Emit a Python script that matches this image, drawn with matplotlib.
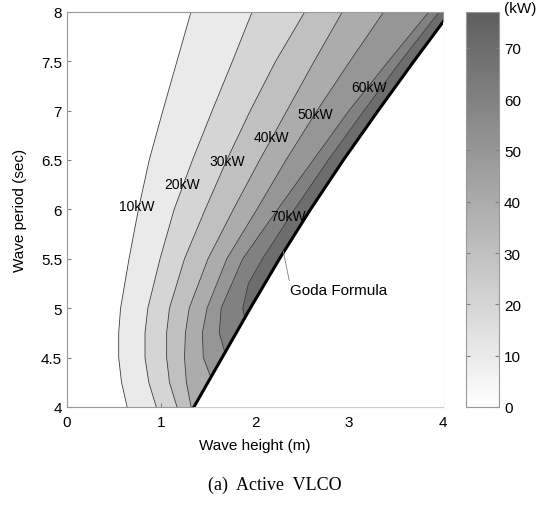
import numpy as np
import matplotlib
matplotlib.use("Agg")
import matplotlib.pyplot as plt
from matplotlib.colors import LinearSegmentedColormap, Normalize
from matplotlib.cm import ScalarMappable

plt.rcParams['font.family'] = ['Liberation Sans', 'DejaVu Sans']

# wave period grid (sec)
T_full = [4.0, 4.25, 4.5, 4.75, 5.0, 5.5, 6.0, 6.5, 7.0, 7.5, 8.0]

# Goda formula limit (wave height, m)
goda_H = [1.35, 1.50, 1.65, 1.80, 1.95, 2.26, 2.59, 2.94, 3.31, 3.69, 4.08]

# contour lines: wave height where power equals level
levels = [10, 20, 30, 40, 50, 60, 70]
T_10 = T_full
H_10 = [0.64, 0.58, 0.55, 0.55, 0.57, 0.66, 0.76, 0.875, 1.02, 1.17, 1.32]
T_20 = T_full
H_20 = [0.95, 0.87, 0.83, 0.83, 0.86, 0.99, 1.14, 1.335, 1.545, 1.76, 1.97]
T_30 = T_full
H_30 = [1.17, 1.09, 1.06, 1.06, 1.09, 1.25, 1.47, 1.70, 1.95, 2.22, 2.53]
T_40 = T_full
H_40 = [1.32, 1.27, 1.25, 1.26, 1.30, 1.50, 1.77, 2.05, 2.34, 2.63, 2.93]
T_50 = [4.3, 4.5, 4.75, 5.0, 5.5, 6.0, 6.5, 7.0, 7.5, 8.0]
H_50 = [1.53, 1.45, 1.44, 1.49, 1.70, 2.02, 2.33, 2.66, 3.01, 3.37]
T_60 = [4.55, 4.75, 5.0, 5.5, 6.0, 6.5, 7.0, 7.5, 8.0]
H_60 = [1.68, 1.62, 1.64, 1.87, 2.24, 2.62, 3.00, 3.42, 3.85]
T_70 = [4.9, 5.0, 5.25, 5.5, 6.0, 6.5, 7.0, 7.5, 8.0]
H_70 = [1.89, 1.87, 1.93, 2.08, 2.42, 2.78, 3.16, 3.55, 3.96]

contour_T = [T_10, T_20, T_30, T_40, T_50, T_60, T_70]
contour_H = [H_10, H_20, H_30, H_40, H_50, H_60, H_70]

label_text = ['10kW', '20kW', '30kW', '40kW', '50kW', '60kW', '70kW']
label_pos = [(0.74, 6.03), (1.22, 6.26), (1.70, 6.49), (2.18, 6.73),
             (2.64, 6.97), (3.21, 7.24), (2.35, 5.93)]

vmax = 77
cmap = LinearSegmentedColormap.from_list('gr', ['#ffffff', '#5e5e5e'])
norm = Normalize(0, vmax)

fig = plt.figure(figsize=(5.49, 5.06), dpi=100)
ax = fig.add_axes([0.122, 0.1937, 0.685, 0.781])
cax = fig.add_axes([0.849, 0.1937, 0.060, 0.781])

# base band (0-10 kW)
ax.fill_betweenx(T_full, 0, 4.2, color=cmap(norm(0)), lw=0)
for lev, tt, hh in zip(levels, contour_T, contour_H):
    ax.fill_betweenx(tt, hh, 4.2, color=cmap(norm(lev)), lw=0)
# mask beyond Goda limit
ax.fill_betweenx(T_full, goda_H, 4.5, color='white', lw=0, zorder=3)
for tt, hh in zip(contour_T, contour_H):
    ax.plot(hh, tt, color='#3a3a3a', lw=0.6, zorder=2)
ax.plot(goda_H, T_full, color='black', lw=2.2, zorder=4)

for txt, (x, y) in zip(label_text, label_pos):
    ax.text(x, y, txt, fontsize=10, ha='center', va='center', zorder=5)

ax.annotate('Goda Formula', xy=(2.30, 5.58), xytext=(2.37, 5.18),
            fontsize=11, va='center', ha='left', zorder=5,
            arrowprops=dict(arrowstyle='-', color='#808080', lw=0.6,
                            shrinkA=0, shrinkB=0,
                            relpos=(0.0, 1.0)))

ax.set_xlim(0, 4)
ax.set_ylim(4, 8)
ax.set_xticks([0, 1, 2, 3, 4])
ax.set_yticks([4, 4.5, 5, 5.5, 6, 6.5, 7, 7.5, 8])
ax.set_yticklabels(['4', '4.5', '5', '5.5', '6', '6.5', '7', '7.5', '8'])
ax.tick_params(direction='in', length=3, labelsize=11, color='#808080')
ax.tick_params(axis='x', pad=6)
for s in ax.spines.values():
    s.set_color('#999999')
    s.set_linewidth(0.8)
ax.set_xlabel('Wave height (m)', fontsize=11, labelpad=6)
ax.set_ylabel('Wave period (sec)', fontsize=11, labelpad=10)

sm = ScalarMappable(norm=norm, cmap=cmap)
cb = fig.colorbar(sm, cax=cax, ticks=[0, 10, 20, 30, 40, 50, 60, 70])
cb.outline.set_edgecolor('#999999')
cb.outline.set_linewidth(0.8)
cax.tick_params(direction='in', length=3, labelsize=11, color='#808080',
                left=True, right=True)
cax.text(1.15, 1.01, '(kW)', transform=cax.transAxes, fontsize=11,
         ha='left', va='center')

fig.text(0.5, 0.04, '(a)  Active  VLCO', ha='center', va='center',
         fontsize=13, family='Liberation Serif')

fig.savefig('out.png', dpi=100)
